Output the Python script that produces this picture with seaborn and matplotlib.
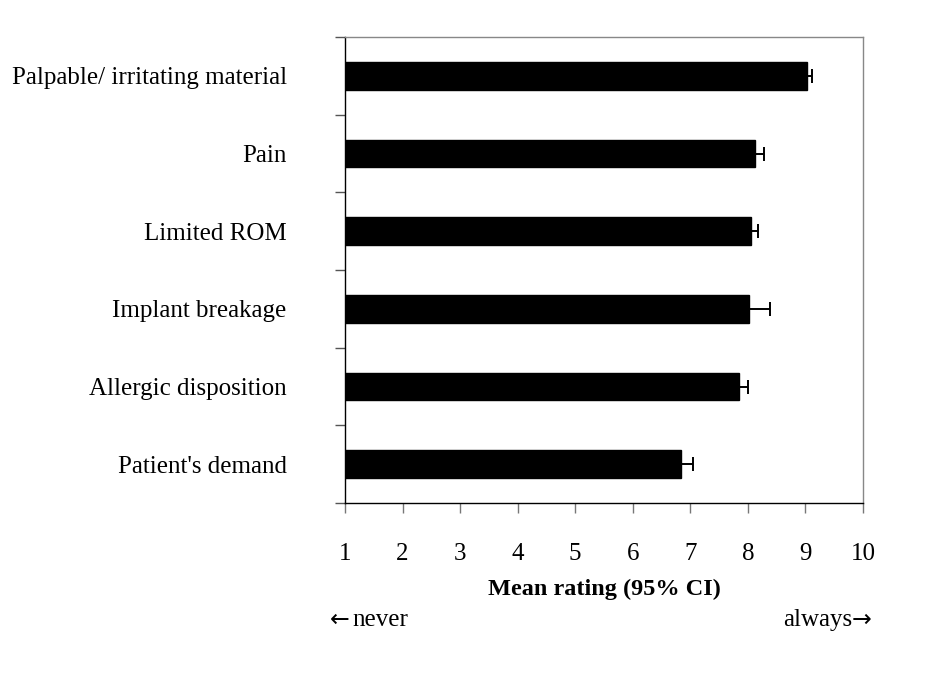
import numpy as np
import pandas as pd
import matplotlib
matplotlib.use('Agg')
import matplotlib.pyplot as plt
import seaborn as sns

# values
reasons = ['Palpable/ irritating material', 'Pain', 'Limited ROM',
           'Implant breakage', 'Allergic disposition', "Patient's demand"]
mean_rating = [9.02, 8.12, 8.05, 8.02, 7.84, 6.84]
ci_upper = [9.12, 8.28, 8.18, 8.39, 8.01, 7.04]

df = pd.DataFrame({'reason': reasons, 'mean': mean_rating, 'upper': ci_upper})

sns.set_style('white')
plt.rcParams['font.family'] = ['Liberation Serif', 'DejaVu Serif']
plt.rcParams['text.color'] = 'black'
plt.rcParams['axes.labelcolor'] = 'black'
plt.rcParams['xtick.color'] = 'black'
plt.rcParams['ytick.color'] = 'black'

fig = plt.figure(figsize=(9.38, 6.75), dpi=100)
ax = fig.add_axes([345 / 938, 1 - 503 / 675, 518 / 938, 466 / 675])

sns.barplot(data=df, x='mean', y='reason', orient='h', color='black',
            saturation=1, width=0.36, errorbar=None, ax=ax)
for p in ax.patches:
    p.set_edgecolor('black')

ypos = np.arange(len(reasons))
ax.errorbar(df['mean'], ypos, xerr=[np.zeros(len(reasons)), df['upper'] - df['mean']],
            fmt='none', ecolor='black', elinewidth=1.4, capsize=5, capthick=1.4)

ax.set_xlim(1, 10)
ax.set_ylim(len(reasons) - 0.5, -0.5)
ax.set_xticks(range(1, 11))
ax.set_xlabel('Mean rating (95% CI)', fontsize=17.5, fontweight='bold', labelpad=10)
ax.set_ylabel('')

# category boundaries carry the y ticks, labels sit at the bar centres
ax.set_yticks(np.arange(-0.5, len(reasons), 1), minor=True)
ax.tick_params(axis='y', which='major', length=0, pad=42, labelsize=18)
ax.tick_params(axis='y', which='minor', length=7, width=1, color='#555555', left=True)
ax.tick_params(axis='x', which='major', length=7, width=1, color='#777777',
               bottom=True, pad=22, labelsize=18)

for side in ['left', 'bottom']:
    ax.spines[side].set_color('black')
    ax.spines[side].set_linewidth(1)
for side in ['top', 'right']:
    ax.spines[side].set_color('#888888')
    ax.spines[side].set_linewidth(1)

# direction hints under the axis
y_hint = 1 - 620 / 675
fig.text(330 / 938, y_hint, '\u2190', fontsize=17, family='DejaVu Sans', ha='left', va='center')
fig.text(352 / 938, y_hint, 'never', fontsize=18, ha='left', va='center')
fig.text(852 / 938, y_hint, 'always', fontsize=18, ha='right', va='center')
fig.text(852 / 938, y_hint, '\u2192', fontsize=17, family='DejaVu Sans', ha='left', va='center')

fig.savefig('out.png', dpi=100)
